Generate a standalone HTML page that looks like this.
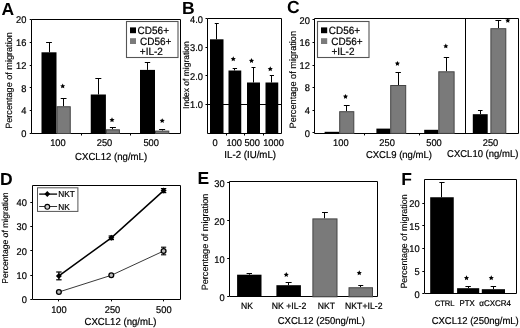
<!DOCTYPE html>
<html><head><meta charset="utf-8"><style>
html,body{margin:0;padding:0;background:#fff;}
body{width:520px;height:328px;overflow:hidden;}
svg{display:block;filter:grayscale(1) blur(0.35px);}
text{font-family:"Liberation Sans", sans-serif;text-rendering:geometricPrecision;fill:#000;stroke:#000;stroke-width:0.2px;}
text.b{stroke-width:0;}
text.v{stroke-width:0.15px;}
text.s{stroke-width:0.08px;}
</style></head><body>
<svg width="520" height="328" viewBox="0 0 520 328">
<rect width="520" height="328" fill="#fff"/>
<text x="1.5" y="15" font-size="17.5" text-anchor="start" font-weight="bold" class="b">A</text>
<path d="M31.5,19.5 L180.5,19.5 L180.5,133.5 L31.5,133.5 Z" fill="none" stroke="#000" stroke-width="1"/>
<line x1="29.7" y1="133.5" x2="31.5" y2="133.5" stroke="#000" stroke-width="1"/>
<text x="0" y="0" transform="translate(26.3,137.23) scale(1,1.05)" font-size="9.3" text-anchor="end">0</text>
<line x1="29.7" y1="110.5" x2="31.5" y2="110.5" stroke="#000" stroke-width="1"/>
<text x="0" y="0" transform="translate(26.3,114.43) scale(1,1.05)" font-size="9.3" text-anchor="end">4</text>
<line x1="29.7" y1="87.5" x2="31.5" y2="87.5" stroke="#000" stroke-width="1"/>
<text x="0" y="0" transform="translate(26.3,91.63) scale(1,1.05)" font-size="9.3" text-anchor="end">8</text>
<line x1="29.7" y1="65.5" x2="31.5" y2="65.5" stroke="#000" stroke-width="1"/>
<text x="0" y="0" transform="translate(26.3,68.83) scale(1,1.05)" font-size="9.3" text-anchor="end">12</text>
<line x1="29.7" y1="42.5" x2="31.5" y2="42.5" stroke="#000" stroke-width="1"/>
<text x="0" y="0" transform="translate(26.3,46.03) scale(1,1.05)" font-size="9.3" text-anchor="end">16</text>
<line x1="29.7" y1="19.5" x2="31.5" y2="19.5" stroke="#000" stroke-width="1"/>
<text x="0" y="0" transform="translate(26.3,23.23) scale(1,1.05)" font-size="9.3" text-anchor="end">20</text>
<line x1="49.5" y1="42.6" x2="49.5" y2="52.3" stroke="#000" stroke-width="1"/>
<line x1="46.1" y1="42.5" x2="51.9" y2="42.5" stroke="#000" stroke-width="1"/>
<rect x="41.50" y="52.30" width="15.00" height="81.20" fill="#000"/>
<line x1="63.5" y1="98.5" x2="63.5" y2="106.25" stroke="#000" stroke-width="1"/>
<line x1="60.725" y1="98.5" x2="66.525" y2="98.5" stroke="#000" stroke-width="1"/>
<rect x="57.00" y="106.75" width="13.25" height="26.75" fill="#7a7a7a" stroke="#444" stroke-width="1"/>
<line x1="98.5" y1="78.7" x2="98.5" y2="94.5" stroke="#000" stroke-width="1"/>
<line x1="95.325" y1="78.5" x2="101.325" y2="78.5" stroke="#000" stroke-width="1"/>
<rect x="90.75" y="94.50" width="15.15" height="39.00" fill="#000"/>
<line x1="112.5" y1="127.8" x2="112.5" y2="129.3" stroke="#000" stroke-width="1"/>
<line x1="109.9" y1="127.5" x2="115.9" y2="127.5" stroke="#000" stroke-width="1"/>
<rect x="106.40" y="129.80" width="13.00" height="3.70" fill="#7a7a7a" stroke="#444" stroke-width="1"/>
<line x1="147.5" y1="62.3" x2="147.5" y2="69.9" stroke="#000" stroke-width="1"/>
<line x1="144.8" y1="62.5" x2="150.2" y2="62.5" stroke="#000" stroke-width="1"/>
<rect x="140.00" y="69.90" width="15.00" height="63.60" fill="#000"/>
<line x1="162.5" y1="129.6" x2="162.5" y2="130.6" stroke="#000" stroke-width="1"/>
<line x1="159.15" y1="129.5" x2="165.15" y2="129.5" stroke="#000" stroke-width="1"/>
<rect x="155.50" y="131.10" width="13.30" height="2.40" fill="#7a7a7a" stroke="#444" stroke-width="1"/>
<polygon points="62.70,83.55 63.48,85.13 65.22,85.38 63.96,86.61 64.26,88.34 62.70,87.53 61.14,88.34 61.44,86.61 60.18,85.38 61.92,85.13" fill="#000"/>
<polygon points="112.00,117.35 112.78,118.93 114.52,119.18 113.26,120.41 113.56,122.14 112.00,121.33 110.44,122.14 110.74,120.41 109.48,119.18 111.22,118.93" fill="#000"/>
<polygon points="162.20,118.15 162.98,119.73 164.72,119.98 163.46,121.21 163.76,122.94 162.20,122.12 160.64,122.94 160.94,121.21 159.68,119.98 161.42,119.73" fill="#000"/>
<line x1="81.5" y1="133.5" x2="81.5" y2="135.5" stroke="#000" stroke-width="1"/>
<line x1="130.5" y1="133.5" x2="130.5" y2="135.5" stroke="#000" stroke-width="1"/>
<text x="0" y="0" transform="translate(57.9,146.33) scale(1,1.05)" font-size="9.3" text-anchor="middle">100</text>
<text x="0" y="0" transform="translate(104.5,146.33) scale(1,1.05)" font-size="9.3" text-anchor="middle">250</text>
<text x="0" y="0" transform="translate(151.2,146.33) scale(1,1.05)" font-size="9.3" text-anchor="middle">500</text>
<text x="0" y="0" transform="translate(111.1,159.5) scale(1,1.05)" font-size="9.6" text-anchor="middle">CXCL12 (ng/mL)</text>
<text class="v" x="0" y="0" font-size="9.1" text-anchor="middle" transform="translate(12.4,80.5) rotate(-90)">Percentage of migration</text>
<rect x="126.50" y="21.50" width="51.50" height="36.00" fill="#fff" stroke="#555" stroke-width="1.1"/>
<rect x="130.00" y="27.40" width="6.00" height="5.80" fill="#000"/>
<rect x="130.00" y="38.20" width="6.00" height="5.80" fill="#7a7a7a"/>
<text x="0" y="0" transform="translate(137.6,34.2) scale(1,1.05)" font-size="10" text-anchor="start">CD56+</text>
<text x="0" y="0" transform="translate(140,44.6) scale(1,1.05)" font-size="10" text-anchor="start">CD56+</text>
<text x="0" y="0" transform="translate(139.8,55.4) scale(1,1.05)" font-size="10" text-anchor="start">+IL-2</text>
<text x="182" y="14.0" font-size="17.5" text-anchor="start" font-weight="bold" class="b">B</text>
<path d="M207.5,18.5 L281.5,18.5 L281.5,133.5 L207.5,133.5 Z" fill="none" stroke="#000" stroke-width="1"/>
<line x1="205.5" y1="104.5" x2="207.3" y2="104.5" stroke="#000" stroke-width="1"/>
<text x="0" y="0" transform="translate(202.9,108.13) scale(1,1.05)" font-size="9.3" text-anchor="end">1.0</text>
<line x1="205.5" y1="75.5" x2="207.3" y2="75.5" stroke="#000" stroke-width="1"/>
<text x="0" y="0" transform="translate(202.9,79.63) scale(1,1.05)" font-size="9.3" text-anchor="end">2.0</text>
<line x1="205.5" y1="47.5" x2="207.3" y2="47.5" stroke="#000" stroke-width="1"/>
<text x="0" y="0" transform="translate(202.9,51.13) scale(1,1.05)" font-size="9.3" text-anchor="end">3.0</text>
<line x1="205.5" y1="18.5" x2="207.3" y2="18.5" stroke="#000" stroke-width="1"/>
<text x="0" y="0" transform="translate(202.9,22.63) scale(1,1.05)" font-size="9.3" text-anchor="end">4.0</text>
<line x1="207.3" y1="104.5" x2="281" y2="104.5" stroke="#000" stroke-width="1"/>
<line x1="216.5" y1="23.25" x2="216.5" y2="39.3" stroke="#000" stroke-width="1"/>
<line x1="214.75" y1="23.5" x2="218.75" y2="23.5" stroke="#000" stroke-width="1"/>
<rect x="210.00" y="39.30" width="13.50" height="93.70" fill="#000"/>
<line x1="234.5" y1="68" x2="234.5" y2="70.5" stroke="#000" stroke-width="1"/>
<line x1="232.675" y1="68.5" x2="237.075" y2="68.5" stroke="#000" stroke-width="1"/>
<rect x="228.50" y="70.50" width="12.75" height="62.50" fill="#000"/>
<line x1="253.5" y1="67" x2="253.5" y2="82.5" stroke="#000" stroke-width="1"/>
<line x1="251.5" y1="67.5" x2="255.5" y2="67.5" stroke="#000" stroke-width="1"/>
<rect x="247.00" y="82.50" width="13.00" height="50.50" fill="#000"/>
<line x1="271.5" y1="75.5" x2="271.5" y2="82.5" stroke="#000" stroke-width="1"/>
<line x1="269.775" y1="75.5" x2="273.975" y2="75.5" stroke="#000" stroke-width="1"/>
<rect x="265.50" y="82.50" width="12.75" height="50.50" fill="#000"/>
<polygon points="233.25,56.35 234.03,57.93 235.77,58.18 234.51,59.41 234.81,61.14 233.25,60.33 231.69,61.14 231.99,59.41 230.73,58.18 232.47,57.93" fill="#000"/>
<polygon points="251.50,58.10 252.28,59.68 254.02,59.93 252.76,61.16 253.06,62.89 251.50,62.08 249.94,62.89 250.24,61.16 248.98,59.93 250.72,59.68" fill="#000"/>
<polygon points="270.25,66.35 271.03,67.93 272.77,68.18 271.51,69.41 271.81,71.14 270.25,70.33 268.69,71.14 268.99,69.41 267.73,68.18 269.47,67.93" fill="#000"/>
<line x1="226.5" y1="133" x2="226.5" y2="135.5" stroke="#000" stroke-width="1"/>
<line x1="244.5" y1="133" x2="244.5" y2="135.5" stroke="#000" stroke-width="1"/>
<line x1="263.5" y1="133" x2="263.5" y2="135.5" stroke="#000" stroke-width="1"/>
<text x="0" y="0" transform="translate(215.2,145.63) scale(1,1.05)" font-size="9.3" text-anchor="middle">0</text>
<text x="0" y="0" transform="translate(234.2,145.63) scale(1,1.05)" font-size="9.3" text-anchor="middle">100</text>
<text x="0" y="0" transform="translate(252.2,145.63) scale(1,1.05)" font-size="9.3" text-anchor="middle">500</text>
<text x="0" y="0" transform="translate(273.5,145.63) scale(1,1.05)" font-size="9.3" text-anchor="middle">1000</text>
<text x="0" y="0" transform="translate(250.2,158.4) scale(1,1.05)" font-size="9.7" text-anchor="middle">IL-2 (IU/mL)</text>
<text class="v" x="0" y="0" font-size="8.5" text-anchor="middle" transform="translate(188.6,75.1) rotate(-90)">Index of migration</text>
<text x="287.0" y="13.4" font-size="17.5" text-anchor="start" font-weight="bold" class="b">C</text>
<path d="M314.5,18.5 L518.5,18.5 L518.5,133.5 L314.5,133.5 Z" fill="none" stroke="#000" stroke-width="1"/>
<line x1="465.5" y1="18.6" x2="465.5" y2="133.4" stroke="#000" stroke-width="1"/>
<line x1="312.5" y1="132.5" x2="314.3" y2="132.5" stroke="#000" stroke-width="1"/>
<text x="0" y="0" transform="translate(309.9,136.63) scale(1,1.05)" font-size="9.3" text-anchor="end">0</text>
<line x1="312.5" y1="110.5" x2="314.3" y2="110.5" stroke="#000" stroke-width="1"/>
<text x="0" y="0" transform="translate(309.9,114.01) scale(1,1.05)" font-size="9.3" text-anchor="end">4</text>
<line x1="312.5" y1="87.5" x2="314.3" y2="87.5" stroke="#000" stroke-width="1"/>
<text x="0" y="0" transform="translate(309.9,91.39) scale(1,1.05)" font-size="9.3" text-anchor="end">8</text>
<line x1="312.5" y1="65.5" x2="314.3" y2="65.5" stroke="#000" stroke-width="1"/>
<text x="0" y="0" transform="translate(309.9,68.77) scale(1,1.05)" font-size="9.3" text-anchor="end">12</text>
<line x1="312.5" y1="42.5" x2="314.3" y2="42.5" stroke="#000" stroke-width="1"/>
<text x="0" y="0" transform="translate(309.9,46.15) scale(1,1.05)" font-size="9.3" text-anchor="end">16</text>
<line x1="312.5" y1="19.5" x2="314.3" y2="19.5" stroke="#000" stroke-width="1"/>
<text x="0" y="0" transform="translate(309.9,23.53) scale(1,1.05)" font-size="9.3" text-anchor="end">20</text>
<rect x="324.60" y="131.80" width="14.60" height="1.60" fill="#000"/>
<line x1="346.5" y1="105.1" x2="346.5" y2="111.2" stroke="#000" stroke-width="1"/>
<line x1="343.85" y1="105.5" x2="349.65" y2="105.5" stroke="#000" stroke-width="1"/>
<rect x="339.70" y="111.70" width="14.10" height="21.70" fill="#7a7a7a" stroke="#444" stroke-width="1"/>
<rect x="376.40" y="128.60" width="13.80" height="4.80" fill="#000"/>
<line x1="398.5" y1="72" x2="398.5" y2="85" stroke="#000" stroke-width="1"/>
<line x1="395.5" y1="72.5" x2="400.9" y2="72.5" stroke="#000" stroke-width="1"/>
<rect x="390.70" y="85.50" width="15.00" height="47.90" fill="#7a7a7a" stroke="#444" stroke-width="1"/>
<rect x="424.20" y="129.80" width="14.10" height="3.60" fill="#000"/>
<line x1="446.5" y1="57.9" x2="446.5" y2="71.3" stroke="#000" stroke-width="1"/>
<line x1="443.75000000000006" y1="57.5" x2="449.15000000000003" y2="57.5" stroke="#000" stroke-width="1"/>
<rect x="438.80" y="71.80" width="15.30" height="61.60" fill="#7a7a7a" stroke="#444" stroke-width="1"/>
<line x1="480.5" y1="110.4" x2="480.5" y2="114.2" stroke="#000" stroke-width="1"/>
<line x1="477.95" y1="110.5" x2="482.55" y2="110.5" stroke="#000" stroke-width="1"/>
<rect x="472.80" y="114.20" width="14.90" height="19.20" fill="#000"/>
<line x1="498.5" y1="20.8" x2="498.5" y2="28.2" stroke="#000" stroke-width="1"/>
<line x1="495.45000000000005" y1="20.5" x2="501.25" y2="20.5" stroke="#000" stroke-width="1"/>
<rect x="490.90" y="28.70" width="14.90" height="104.70" fill="#7a7a7a" stroke="#444" stroke-width="1"/>
<polygon points="345.50,93.95 346.28,95.53 348.02,95.78 346.76,97.01 347.06,98.74 345.50,97.92 343.94,98.74 344.24,97.01 342.98,95.78 344.72,95.53" fill="#000"/>
<polygon points="397.40,60.95 398.18,62.53 399.92,62.78 398.66,64.01 398.96,65.74 397.40,64.92 395.84,65.74 396.14,64.01 394.88,62.78 396.62,62.53" fill="#000"/>
<polygon points="445.80,43.55 446.58,45.13 448.32,45.38 447.06,46.61 447.36,48.34 445.80,47.53 444.24,48.34 444.54,46.61 443.28,45.38 445.02,45.13" fill="#000"/>
<polygon points="507.80,17.95 508.58,19.53 510.32,19.78 509.06,21.01 509.36,22.74 507.80,21.93 506.24,22.74 506.54,21.01 505.28,19.78 507.02,19.53" fill="#000"/>
<line x1="364.5" y1="133.4" x2="364.5" y2="135.4" stroke="#000" stroke-width="1"/>
<line x1="419.5" y1="133.4" x2="419.5" y2="135.4" stroke="#000" stroke-width="1"/>
<text x="0" y="0" transform="translate(340.8,145.53) scale(1,1.05)" font-size="9.3" text-anchor="middle">100</text>
<text x="0" y="0" transform="translate(387.1,145.53) scale(1,1.05)" font-size="9.3" text-anchor="middle">250</text>
<text x="0" y="0" transform="translate(434,145.53) scale(1,1.05)" font-size="9.3" text-anchor="middle">500</text>
<text x="0" y="0" transform="translate(490.5,145.53) scale(1,1.05)" font-size="9.3" text-anchor="middle">250</text>
<text x="0" y="0" transform="translate(398.9,157.8) scale(1,1.05)" font-size="9.5" text-anchor="middle">CXCL9 (ng/mL)</text>
<text x="0" y="0" transform="translate(482.7,157.4) scale(1,1.05)" font-size="9.5" text-anchor="middle">CXCL10 (ng/mL)</text>
<text class="v" x="0" y="0" font-size="9.2" text-anchor="middle" transform="translate(295.8,79.7) rotate(-90)">Percentage of migration</text>
<rect x="317.50" y="21.50" width="51.50" height="36.00" fill="#fff" stroke="#555" stroke-width="1.1"/>
<rect x="321.00" y="27.40" width="6.20" height="5.80" fill="#000"/>
<rect x="321.00" y="38.20" width="6.20" height="5.80" fill="#7a7a7a"/>
<text x="0" y="0" transform="translate(328.8,34.2) scale(1,1.05)" font-size="10" text-anchor="start">CD56+</text>
<text x="0" y="0" transform="translate(331.2,44.6) scale(1,1.05)" font-size="10" text-anchor="start">CD56+</text>
<text x="0" y="0" transform="translate(331.4,55.4) scale(1,1.05)" font-size="10" text-anchor="start">+IL-2</text>
<text x="0" y="185.0" font-size="17.5" text-anchor="start" font-weight="bold" class="b">D</text>
<path d="M32.5,185.5 L180.5,185.5 L180.5,299.5 L32.5,299.5 Z" fill="none" stroke="#000" stroke-width="1"/>
<line x1="30.3" y1="299.5" x2="32.1" y2="299.5" stroke="#000" stroke-width="1"/>
<text x="0" y="0" transform="translate(26.900000000000002,303.13) scale(1,1.05)" font-size="9.3" text-anchor="end">0</text>
<line x1="30.3" y1="275.5" x2="32.1" y2="275.5" stroke="#000" stroke-width="1"/>
<text x="0" y="0" transform="translate(26.900000000000002,278.88) scale(1,1.05)" font-size="9.3" text-anchor="end">10</text>
<line x1="30.3" y1="250.5" x2="32.1" y2="250.5" stroke="#000" stroke-width="1"/>
<text x="0" y="0" transform="translate(26.900000000000002,254.63) scale(1,1.05)" font-size="9.3" text-anchor="end">20</text>
<line x1="30.3" y1="226.5" x2="32.1" y2="226.5" stroke="#000" stroke-width="1"/>
<text x="0" y="0" transform="translate(26.900000000000002,230.38) scale(1,1.05)" font-size="9.3" text-anchor="end">30</text>
<line x1="30.3" y1="202.5" x2="32.1" y2="202.5" stroke="#000" stroke-width="1"/>
<text x="0" y="0" transform="translate(26.900000000000002,206.13) scale(1,1.05)" font-size="9.3" text-anchor="end">40</text>
<polyline points="58.9,275.9 111.3,237.8 163.6,190.6" fill="none" stroke="#000" stroke-width="1.5"/>
<polyline points="58.9,292 111.3,275.3 163.6,251" fill="none" stroke="#222" stroke-width="0.9"/>
<line x1="58.9" y1="272.0" x2="58.9" y2="279.79999999999995" stroke="#000" stroke-width="1.2"/>
<line x1="56.199999999999996" y1="272.0" x2="61.6" y2="272.0" stroke="#000" stroke-width="1.2"/>
<line x1="56.199999999999996" y1="279.79999999999995" x2="61.6" y2="279.79999999999995" stroke="#000" stroke-width="1.2"/>
<path d="M58.9,272.9 L61.9,275.9 L58.9,278.9 L55.9,275.9 Z" fill="#000"/>
<line x1="111.3" y1="236.0" x2="111.3" y2="239.60000000000002" stroke="#000" stroke-width="1.2"/>
<line x1="108.6" y1="236.0" x2="114.0" y2="236.0" stroke="#000" stroke-width="1.2"/>
<line x1="108.6" y1="239.60000000000002" x2="114.0" y2="239.60000000000002" stroke="#000" stroke-width="1.2"/>
<path d="M111.3,234.8 L114.3,237.8 L111.3,240.8 L108.3,237.8 Z" fill="#000"/>
<line x1="163.6" y1="188.6" x2="163.6" y2="192.6" stroke="#000" stroke-width="1.2"/>
<line x1="160.9" y1="188.6" x2="166.29999999999998" y2="188.6" stroke="#000" stroke-width="1.2"/>
<line x1="160.9" y1="192.6" x2="166.29999999999998" y2="192.6" stroke="#000" stroke-width="1.2"/>
<path d="M163.6,187.6 L166.6,190.6 L163.6,193.6 L160.6,190.6 Z" fill="#000"/>
<circle cx="58.9" cy="292" r="2.4" fill="#bbb" stroke="#000" stroke-width="1.3"/>
<circle cx="111.3" cy="275.3" r="2.4" fill="#bbb" stroke="#000" stroke-width="1.3"/>
<line x1="163.6" y1="247.2" x2="163.6" y2="254.8" stroke="#000" stroke-width="1.1"/>
<line x1="161.0" y1="247.2" x2="166.2" y2="247.2" stroke="#000" stroke-width="1.1"/>
<line x1="161.0" y1="254.8" x2="166.2" y2="254.8" stroke="#000" stroke-width="1.1"/>
<circle cx="163.6" cy="251" r="2.4" fill="#bbb" stroke="#000" stroke-width="1.3"/>
<line x1="58.5" y1="299.4" x2="58.5" y2="301.4" stroke="#000" stroke-width="1"/>
<line x1="111.5" y1="299.4" x2="111.5" y2="301.4" stroke="#000" stroke-width="1"/>
<line x1="163.5" y1="299.4" x2="163.5" y2="301.4" stroke="#000" stroke-width="1"/>
<text x="0" y="0" transform="translate(58.9,313.03) scale(1,1.05)" font-size="9.3" text-anchor="middle">100</text>
<text x="0" y="0" transform="translate(112.5,313.03) scale(1,1.05)" font-size="9.3" text-anchor="middle">250</text>
<text x="0" y="0" transform="translate(163.8,313.03) scale(1,1.05)" font-size="9.3" text-anchor="middle">500</text>
<text x="0" y="0" transform="translate(120.5,324.5) scale(1,1.05)" font-size="9.6" text-anchor="middle">CXCL12 (ng/mL)</text>
<text class="v" x="0" y="0" font-size="8.6" text-anchor="middle" transform="translate(7.8,238.1) rotate(-90)">Percentage of migration</text>
<rect x="37.50" y="187.80" width="40.40" height="23.60" fill="#fff" stroke="#555" stroke-width="1"/>
<line x1="39.2" y1="194.1" x2="57.1" y2="194.1" stroke="#000" stroke-width="1.3"/>
<path d="M47.3,191.1 L50.2,194.1 L47.3,197.1 L44.4,194.1 Z" fill="#000"/>
<line x1="39.2" y1="206.5" x2="57.1" y2="206.5" stroke="#333" stroke-width="1"/>
<circle cx="47.3" cy="206.8" r="2.4" fill="#ccc" stroke="#000" stroke-width="1.1"/>
<text x="0" y="0" transform="translate(58.3,197.3) scale(1,1.05)" font-size="8.3" text-anchor="start">NKT</text>
<text x="0" y="0" transform="translate(58.3,209.8) scale(1,1.05)" font-size="8.3" text-anchor="start">NK</text>
<text x="197.5" y="184.0" font-size="17.5" text-anchor="start" font-weight="bold" class="b">E</text>
<path d="M229.5,181.5 L377.5,181.5 L377.5,296.5 L229.5,296.5 Z" fill="none" stroke="#000" stroke-width="1"/>
<line x1="227.2" y1="296.5" x2="229" y2="296.5" stroke="#000" stroke-width="1"/>
<text x="0" y="0" transform="translate(224.6,300.53) scale(1,1.05)" font-size="9.3" text-anchor="end">0</text>
<line x1="227.2" y1="258.5" x2="229" y2="258.5" stroke="#000" stroke-width="1"/>
<text x="0" y="0" transform="translate(224.6,262.53) scale(1,1.05)" font-size="9.3" text-anchor="end">10</text>
<line x1="227.2" y1="220.5" x2="229" y2="220.5" stroke="#000" stroke-width="1"/>
<text x="0" y="0" transform="translate(224.6,224.53) scale(1,1.05)" font-size="9.3" text-anchor="end">20</text>
<line x1="227.2" y1="182.5" x2="229" y2="182.5" stroke="#000" stroke-width="1"/>
<text x="0" y="0" transform="translate(224.6,186.53) scale(1,1.05)" font-size="9.3" text-anchor="end">30</text>
<line x1="249.5" y1="273.2" x2="249.5" y2="274.7" stroke="#000" stroke-width="1"/>
<line x1="246.60000000000002" y1="273.5" x2="252.0" y2="273.5" stroke="#000" stroke-width="1"/>
<rect x="237.10" y="274.70" width="24.40" height="22.10" fill="#000"/>
<line x1="288.5" y1="282.2" x2="288.5" y2="285.2" stroke="#000" stroke-width="1"/>
<line x1="285.65" y1="282.5" x2="291.65" y2="282.5" stroke="#000" stroke-width="1"/>
<rect x="276.40" y="285.20" width="24.50" height="11.60" fill="#000"/>
<line x1="324.5" y1="212.6" x2="324.5" y2="218.4" stroke="#000" stroke-width="1"/>
<line x1="322.05" y1="212.5" x2="327.84999999999997" y2="212.5" stroke="#000" stroke-width="1"/>
<rect x="312.90" y="218.90" width="24.10" height="77.90" fill="#7a7a7a" stroke="#444" stroke-width="1"/>
<line x1="360.5" y1="285.25" x2="360.5" y2="287.25" stroke="#000" stroke-width="1"/>
<line x1="358.25" y1="285.5" x2="363.25" y2="285.5" stroke="#000" stroke-width="1"/>
<rect x="349.00" y="287.75" width="23.50" height="9.05" fill="#7a7a7a" stroke="#444" stroke-width="1"/>
<polygon points="286.25,272.10 287.03,273.68 288.77,273.93 287.51,275.16 287.81,276.89 286.25,276.07 284.69,276.89 284.99,275.16 283.73,273.93 285.47,273.68" fill="#000"/>
<polygon points="359.25,270.35 360.03,271.93 361.77,272.18 360.51,273.41 360.81,275.14 359.25,274.32 357.69,275.14 357.99,273.41 356.73,272.18 358.47,271.93" fill="#000"/>
<text x="0" y="0" transform="translate(247,309.28) scale(1,1.05)" font-size="8.6" text-anchor="middle">NK</text>
<text x="0" y="0" transform="translate(289,309.11) scale(1,1.05)" font-size="8.7" text-anchor="middle">NK +IL-2</text>
<text x="0" y="0" transform="translate(326.4,309.08) scale(1,1.05)" font-size="8.6" text-anchor="middle">NKT</text>
<text x="0" y="0" transform="translate(363.75,309.11) scale(1,1.05)" font-size="8.7" text-anchor="middle">NKT+IL-2</text>
<text x="0" y="0" transform="translate(321.25,324) scale(1,1.05)" font-size="9.5" text-anchor="middle">CXCL12 (250ng/mL)</text>
<text class="v" x="0" y="0" font-size="9.1" text-anchor="middle" transform="translate(207.8,242) rotate(-90)">Percentage of migration</text>
<text x="401.2" y="184.6" font-size="17.5" text-anchor="start" font-weight="bold" class="b">F</text>
<path d="M424.5,179.5 L516.5,179.5 L516.5,293.5 L424.5,293.5 Z" fill="none" stroke="#000" stroke-width="1"/>
<line x1="422.3" y1="293.5" x2="424.1" y2="293.5" stroke="#000" stroke-width="1"/>
<text x="0" y="0" transform="translate(419.7,297.63) scale(1,1.05)" font-size="9.3" text-anchor="end">0</text>
<line x1="422.3" y1="271.5" x2="424.1" y2="271.5" stroke="#000" stroke-width="1"/>
<text x="0" y="0" transform="translate(419.7,274.98) scale(1,1.05)" font-size="9.3" text-anchor="end">5</text>
<line x1="422.3" y1="248.5" x2="424.1" y2="248.5" stroke="#000" stroke-width="1"/>
<text x="0" y="0" transform="translate(419.7,252.33) scale(1,1.05)" font-size="9.3" text-anchor="end">10</text>
<line x1="422.3" y1="225.5" x2="424.1" y2="225.5" stroke="#000" stroke-width="1"/>
<text x="0" y="0" transform="translate(419.7,229.68) scale(1,1.05)" font-size="9.3" text-anchor="end">15</text>
<line x1="422.3" y1="203.5" x2="424.1" y2="203.5" stroke="#000" stroke-width="1"/>
<text x="0" y="0" transform="translate(419.7,207.03) scale(1,1.05)" font-size="9.3" text-anchor="end">20</text>
<line x1="441.5" y1="182.75" x2="441.5" y2="197.25" stroke="#000" stroke-width="1"/>
<line x1="439.375" y1="182.5" x2="444.57500000000005" y2="182.5" stroke="#000" stroke-width="1"/>
<rect x="430.20" y="197.25" width="23.55" height="96.65" fill="#000"/>
<line x1="468.5" y1="286" x2="468.5" y2="288.2" stroke="#000" stroke-width="1"/>
<line x1="465.45" y1="286.5" x2="470.84999999999997" y2="286.5" stroke="#000" stroke-width="1"/>
<rect x="457.10" y="288.20" width="22.10" height="5.70" fill="#000"/>
<line x1="493.5" y1="286.7" x2="493.5" y2="289.2" stroke="#000" stroke-width="1"/>
<line x1="490.7" y1="286.5" x2="496.09999999999997" y2="286.5" stroke="#000" stroke-width="1"/>
<rect x="481.80" y="289.20" width="23.20" height="4.70" fill="#000"/>
<polygon points="466.50,275.35 467.28,276.93 469.02,277.18 467.76,278.41 468.06,280.14 466.50,279.32 464.94,280.14 465.24,278.41 463.98,277.18 465.72,276.93" fill="#000"/>
<polygon points="491.25,275.35 492.03,276.93 493.77,277.18 492.51,278.41 492.81,280.14 491.25,279.32 489.69,280.14 489.99,278.41 488.73,277.18 490.47,276.93" fill="#000"/>
<text x="0" y="0" transform="translate(444.6,306.32) scale(1,1.05)" font-size="7.6" text-anchor="middle">CTRL</text>
<text x="0" y="0" transform="translate(467.2,306.39) scale(1,1.05)" font-size="7.8" text-anchor="middle">PTX</text>
<text x="0" y="0" transform="translate(495.2,306.46) scale(1,1.05)" font-size="8.0" text-anchor="middle">αCXCR4</text>
<text x="0" y="0" transform="translate(475.2,324) scale(1,1.05)" font-size="9.5" text-anchor="middle">CXCL12 (250ng/mL)</text>
<text class="v" x="0" y="0" font-size="8.9" text-anchor="middle" transform="translate(407.2,241.5) rotate(-90)">Percentage of migration</text>
</svg>
</body></html>
